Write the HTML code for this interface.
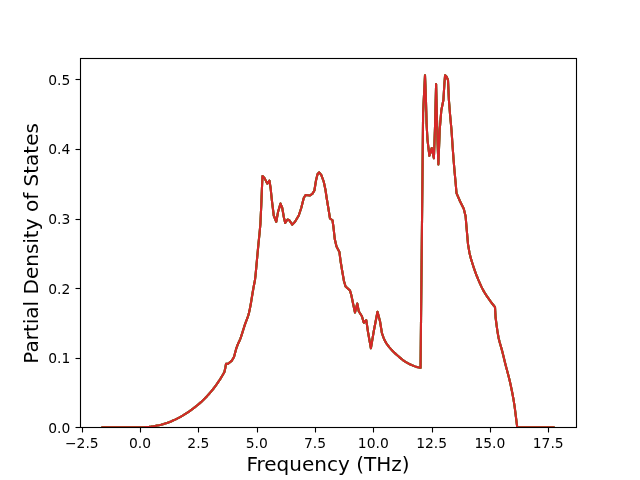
<!DOCTYPE html>
<html><head><meta charset="utf-8"><title>Partial Density of States</title>
<style>
html,body{margin:0;padding:0;background:#fff;}
body{width:640px;height:480px;overflow:hidden;}
svg{display:block;}
text{font-family:"DejaVu Sans","Liberation Sans",sans-serif;fill:#000;}
.t{font-size:13.889px;}
.l{font-size:20px;}
</style></head><body>
<svg width="640" height="480" viewBox="0 0 640 480">
<rect width="640" height="480" fill="#fff"/>
<defs><clipPath id="c"><rect x="80" y="57.6" width="496" height="369.6"/></clipPath></defs>

<g clip-path="url(#c)" fill="none" stroke-width="2.083" stroke-linejoin="round" stroke-linecap="square">
<path d="M102.5 427.2 L140.75 427.2 L143 427.19 L145 427.12 L147 426.99 L149 426.81 L151 426.58 L153 426.3 L155 425.96 L157 425.57 L159 425.15 L161 424.68 L163 424.16 L165 423.58 L167 422.94 L169 422.22 L171 421.44 L173 420.58 L175 419.67 L177 418.69 L179 417.65 L181 416.54 L183 415.38 L185 414.15 L187 412.87 L189 411.52 L191 410.12 L193 408.67 L195 407.15 L197 405.55 L199 403.88 L201 402.14 L203 400.29 L205 398.28 L207 396.17 L209 393.96 L211 391.65 L213 389.24 L215 386.65 L217 383.87 L219 380.94 L221 377.84 L223 374.47 L224.4 371.99 L225.3 368 L226 363.9 L228.1 363.75 L231.9 360.6 L234 356.9 L236 349.4 L236.5 347.95 L237 346.57 L237.5 345.24 L238 343.99 L238.5 342.84 L239 341.8 L239.5 340.75 L240 339.6 L240.5 338.3 L241 336.9 L241.5 335.42 L242 333.87 L242.5 332.28 L243 330.67 L243.5 329.06 L244 327.46 L244.5 325.9 L245 324.4 L245.5 322.99 L246 321.67 L246.5 320.38 L247 319.08 L247.5 317.73 L248 316.26 L248.5 314.64 L249 312.79 L249.5 310.6 L250 308.14 L250.5 305.53 L251 302.74 L251.5 299.66 L252 296.52 L252.5 293.51 L253 290.54 L253.5 287.65 L254 284.96 L254.5 282.57 L255 279.7 L255.5 275.51 L256 270.28 L256.5 264.8 L257 259.48 L257.5 253.97 L258 248.55 L258.5 243.44 L259 238.51 L259.5 233.53 L260 228.3 L260.4 224 L261.25 205.5 L262 186.75 L262.5 176 L264.4 177.9 L267.25 183.6 L269.4 180.5 L270.6 188 L271.9 200.5 L273.75 215.5 L276.25 221.75 L278.1 211.75 L280.5 203.6 L282.25 208 L283.75 216.75 L285.2 223 L287.5 219.5 L289 219.9 L292.3 224.6 L295 221.75 L298.75 215.5 L301.25 208 L303.75 198 L305.6 195 L310 195.5 L312.5 193.6 L314.4 190.5 L316 180.5 L317.5 174.25 L319.1 172.3 L321.25 174.9 L323.75 181.75 L325.5 190 L326.5 197 L328.4 208.5 L330 218.5 L332.5 220.25 L333.5 227.5 L334.75 239 L336.5 246.5 L339.4 251.9 L340.6 261.25 L342.25 271.25 L344 281.25 L345.6 286.5 L350 290.6 L351.3 295 L353.1 303.75 L355 312.5 L357.25 303.5 L358.75 311.25 L361.9 316.25 L363.8 322.8 L366.25 320.2 L368.1 332.5 L370.9 348.3 L373.75 331.25 L377.5 311.8 L380 321.25 L381.9 333 L383.4 337.31 L384.9 340.81 L386.4 343.39 L387.9 345.52 L389.4 347.39 L390.9 349.13 L392.4 350.73 L393.9 352.22 L395.4 353.62 L396.9 354.97 L398.4 356.29 L399.9 357.6 L401.4 358.86 L402.9 360.04 L404.4 361.11 L405.9 362.05 L407.4 362.92 L408.9 363.72 L410.4 364.45 L411.9 365.14 L413.4 365.78 L414.9 366.38 L416.4 366.87 L417.9 367.27 L419.4 367.6 L420.55 367.8 L423.1 113 L425 75.3 L425.8 95 L426.6 124 L427.5 140 L429.4 155.8 L431.7 148 L433.9 158.2 L435 127.5 L436.1 84 L437.5 140 L438.4 164.4 L439.7 130 L441.3 110.5 L443.4 100 L444.4 83.75 L445.1 75.2 L446.6 76.8 L448 80 L448.9 100 L450.1 115 L451.5 130 L452.5 145 L453.6 160 L454.6 172 L455.6 182.5 L456.5 193.1 L460 201.25 L463.75 208.75 L465.6 216.25 L466.5 227 L468 244.13 L469.5 252.97 L471 258.91 L472.5 263.75 L474 268.34 L475.5 272.55 L477 276.51 L478.5 280.2 L480 283.61 L481.5 286.87 L483 289.88 L484.5 292.53 L486 294.91 L487.5 297.11 L489 299.21 L490.5 301.29 L492 303.3 L493.5 305.24 L495 307.1 L495.6 317.5 L496.6 325.36 L497.6 332.28 L498.6 337.97 L499.6 342.06 L500.6 345.47 L501.6 348.88 L502.6 352.76 L503.6 356.84 L504.6 360.97 L505.6 365 L506.6 368.8 L507.6 372.49 L508.6 376.26 L509.6 380.35 L510.6 384.76 L511.6 389.48 L512.6 394.56 L513.6 400.04 L514.6 406.38 L515.6 414.26 L516.6 422.31 L517.2 427.2 L553.5 427.2" stroke="#1f77b4"/>
<path d="M102.5 427.2 L140.75 427.2 L143 427.19 L145 427.12 L147 426.99 L149 426.81 L151 426.58 L153 426.3 L155 425.96 L157 425.57 L159 425.15 L161 424.68 L163 424.16 L165 423.58 L167 422.94 L169 422.22 L171 421.44 L173 420.58 L175 419.67 L177 418.69 L179 417.65 L181 416.54 L183 415.38 L185 414.15 L187 412.87 L189 411.52 L191 410.12 L193 408.67 L195 407.15 L197 405.55 L199 403.88 L201 402.14 L203 400.29 L205 398.28 L207 396.17 L209 393.96 L211 391.65 L213 389.24 L215 386.65 L217 383.87 L219 380.94 L221 377.84 L223 374.47 L224.4 371.99 L225.3 368 L226 363.9 L228.1 363.75 L231.9 360.6 L234 356.9 L236 349.4 L236.5 347.95 L237 346.57 L237.5 345.24 L238 343.99 L238.5 342.84 L239 341.8 L239.5 340.75 L240 339.6 L240.5 338.3 L241 336.9 L241.5 335.42 L242 333.87 L242.5 332.28 L243 330.67 L243.5 329.06 L244 327.46 L244.5 325.9 L245 324.4 L245.5 322.99 L246 321.67 L246.5 320.38 L247 319.08 L247.5 317.73 L248 316.26 L248.5 314.64 L249 312.79 L249.5 310.6 L250 308.14 L250.5 305.53 L251 302.74 L251.5 299.66 L252 296.52 L252.5 293.51 L253 290.54 L253.5 287.65 L254 284.96 L254.5 282.57 L255 279.7 L255.5 275.51 L256 270.28 L256.5 264.8 L257 259.48 L257.5 253.97 L258 248.55 L258.5 243.44 L259 238.51 L259.5 233.53 L260 228.3 L260.4 224 L261.25 205.5 L262 186.75 L262.5 176 L264.4 177.9 L267.25 183.6 L269.4 180.5 L270.6 188 L271.9 200.5 L273.75 215.5 L276.25 221.75 L278.1 211.75 L280.5 203.6 L282.25 208 L283.75 216.75 L285.2 223 L287.5 219.5 L289 219.9 L292.3 224.6 L295 221.75 L298.75 215.5 L301.25 208 L303.75 198 L305.6 195 L310 195.5 L312.5 193.6 L314.4 190.5 L316 180.5 L317.5 174.25 L319.1 172.3 L321.25 174.9 L323.75 181.75 L325.5 190 L326.5 197 L328.4 208.5 L330 218.5 L332.5 220.25 L333.5 227.5 L334.75 239 L336.5 246.5 L339.4 251.9 L340.6 261.25 L342.25 271.25 L344 281.25 L345.6 286.5 L350 290.6 L351.3 295 L353.1 303.75 L355 312.5 L357.25 303.5 L358.75 311.25 L361.9 316.25 L363.8 322.8 L366.25 320.2 L368.1 332.5 L370.9 348.3 L373.75 331.25 L377.5 311.8 L380 321.25 L381.9 333 L383.4 337.31 L384.9 340.81 L386.4 343.39 L387.9 345.52 L389.4 347.39 L390.9 349.13 L392.4 350.73 L393.9 352.22 L395.4 353.62 L396.9 354.97 L398.4 356.29 L399.9 357.6 L401.4 358.86 L402.9 360.04 L404.4 361.11 L405.9 362.05 L407.4 362.92 L408.9 363.72 L410.4 364.45 L411.9 365.14 L413.4 365.78 L414.9 366.38 L416.4 366.87 L417.9 367.27 L419.4 367.6 L420.55 367.8 L423.1 113 L425 75.3 L425.8 95 L426.6 124 L427.5 140 L429.4 155.8 L431.7 148 L433.9 158.2 L435 127.5 L436.1 84 L437.5 140 L438.4 164.4 L439.7 130 L441.3 110.5 L443.4 100 L444.4 83.75 L445.1 75.2 L446.6 76.8 L448 80 L448.9 100 L450.1 115 L451.5 130 L452.5 145 L453.6 160 L454.6 172 L455.6 182.5 L456.5 193.1 L460 201.25 L463.75 208.75 L465.6 216.25 L466.5 227 L468 244.13 L469.5 252.97 L471 258.91 L472.5 263.75 L474 268.34 L475.5 272.55 L477 276.51 L478.5 280.2 L480 283.61 L481.5 286.87 L483 289.88 L484.5 292.53 L486 294.91 L487.5 297.11 L489 299.21 L490.5 301.29 L492 303.3 L493.5 305.24 L495 307.1 L495.6 317.5 L496.6 325.36 L497.6 332.28 L498.6 337.97 L499.6 342.06 L500.6 345.47 L501.6 348.88 L502.6 352.76 L503.6 356.84 L504.6 360.97 L505.6 365 L506.6 368.8 L507.6 372.49 L508.6 376.26 L509.6 380.35 L510.6 384.76 L511.6 389.48 L512.6 394.56 L513.6 400.04 L514.6 406.38 L515.6 414.26 L516.6 422.31 L517.2 427.2 L553.5 427.2" stroke="#ff7f0e"/>
<path d="M102.5 427.2 L140.75 427.2 L143 427.19 L145 427.12 L147 426.99 L149 426.81 L151 426.58 L153 426.3 L155 425.96 L157 425.57 L159 425.15 L161 424.68 L163 424.16 L165 423.58 L167 422.94 L169 422.22 L171 421.44 L173 420.58 L175 419.67 L177 418.69 L179 417.65 L181 416.54 L183 415.38 L185 414.15 L187 412.87 L189 411.52 L191 410.12 L193 408.67 L195 407.15 L197 405.55 L199 403.88 L201 402.14 L203 400.29 L205 398.28 L207 396.17 L209 393.96 L211 391.65 L213 389.24 L215 386.65 L217 383.87 L219 380.94 L221 377.84 L223 374.47 L224.4 371.99 L225.3 368 L226 363.9 L228.1 363.75 L231.9 360.6 L234 356.9 L236 349.4 L236.5 347.95 L237 346.57 L237.5 345.24 L238 343.99 L238.5 342.84 L239 341.8 L239.5 340.75 L240 339.6 L240.5 338.3 L241 336.9 L241.5 335.42 L242 333.87 L242.5 332.28 L243 330.67 L243.5 329.06 L244 327.46 L244.5 325.9 L245 324.4 L245.5 322.99 L246 321.67 L246.5 320.38 L247 319.08 L247.5 317.73 L248 316.26 L248.5 314.64 L249 312.79 L249.5 310.6 L250 308.14 L250.5 305.53 L251 302.74 L251.5 299.66 L252 296.52 L252.5 293.51 L253 290.54 L253.5 287.65 L254 284.96 L254.5 282.57 L255 279.7 L255.5 275.51 L256 270.28 L256.5 264.8 L257 259.48 L257.5 253.97 L258 248.55 L258.5 243.44 L259 238.51 L259.5 233.53 L260 228.3 L260.4 224 L261.25 205.5 L262 186.75 L262.5 176 L264.4 177.9 L267.25 183.6 L269.4 180.5 L270.6 188 L271.9 200.5 L273.75 215.5 L276.25 221.75 L278.1 211.75 L280.5 203.6 L282.25 208 L283.75 216.75 L285.2 223 L287.5 219.5 L289 219.9 L292.3 224.6 L295 221.75 L298.75 215.5 L301.25 208 L303.75 198 L305.6 195 L310 195.5 L312.5 193.6 L314.4 190.5 L316 180.5 L317.5 174.25 L319.1 172.3 L321.25 174.9 L323.75 181.75 L325.5 190 L326.5 197 L328.4 208.5 L330 218.5 L332.5 220.25 L333.5 227.5 L334.75 239 L336.5 246.5 L339.4 251.9 L340.6 261.25 L342.25 271.25 L344 281.25 L345.6 286.5 L350 290.6 L351.3 295 L353.1 303.75 L355 312.5 L357.25 303.5 L358.75 311.25 L361.9 316.25 L363.8 322.8 L366.25 320.2 L368.1 332.5 L370.9 348.3 L373.75 331.25 L377.5 311.8 L380 321.25 L381.9 333 L383.4 337.31 L384.9 340.81 L386.4 343.39 L387.9 345.52 L389.4 347.39 L390.9 349.13 L392.4 350.73 L393.9 352.22 L395.4 353.62 L396.9 354.97 L398.4 356.29 L399.9 357.6 L401.4 358.86 L402.9 360.04 L404.4 361.11 L405.9 362.05 L407.4 362.92 L408.9 363.72 L410.4 364.45 L411.9 365.14 L413.4 365.78 L414.9 366.38 L416.4 366.87 L417.9 367.27 L419.4 367.6 L420.55 367.8 L423.1 113 L425 75.3 L425.8 95 L426.6 124 L427.5 140 L429.4 155.8 L431.7 148 L433.9 158.2 L435 127.5 L436.1 84 L437.5 140 L438.4 164.4 L439.7 130 L441.3 110.5 L443.4 100 L444.4 83.75 L445.1 75.2 L446.6 76.8 L448 80 L448.9 100 L450.1 115 L451.5 130 L452.5 145 L453.6 160 L454.6 172 L455.6 182.5 L456.5 193.1 L460 201.25 L463.75 208.75 L465.6 216.25 L466.5 227 L468 244.13 L469.5 252.97 L471 258.91 L472.5 263.75 L474 268.34 L475.5 272.55 L477 276.51 L478.5 280.2 L480 283.61 L481.5 286.87 L483 289.88 L484.5 292.53 L486 294.91 L487.5 297.11 L489 299.21 L490.5 301.29 L492 303.3 L493.5 305.24 L495 307.1 L495.6 317.5 L496.6 325.36 L497.6 332.28 L498.6 337.97 L499.6 342.06 L500.6 345.47 L501.6 348.88 L502.6 352.76 L503.6 356.84 L504.6 360.97 L505.6 365 L506.6 368.8 L507.6 372.49 L508.6 376.26 L509.6 380.35 L510.6 384.76 L511.6 389.48 L512.6 394.56 L513.6 400.04 L514.6 406.38 L515.6 414.26 L516.6 422.31 L517.2 427.2 L553.5 427.2" stroke="#2ca02c"/>
<path d="M102.5 427.2 L140.75 427.2 L143 427.19 L145 427.12 L147 426.99 L149 426.81 L151 426.58 L153 426.3 L155 425.96 L157 425.57 L159 425.15 L161 424.68 L163 424.16 L165 423.58 L167 422.94 L169 422.22 L171 421.44 L173 420.58 L175 419.67 L177 418.69 L179 417.65 L181 416.54 L183 415.38 L185 414.15 L187 412.87 L189 411.52 L191 410.12 L193 408.67 L195 407.15 L197 405.55 L199 403.88 L201 402.14 L203 400.29 L205 398.28 L207 396.17 L209 393.96 L211 391.65 L213 389.24 L215 386.65 L217 383.87 L219 380.94 L221 377.84 L223 374.47 L224.4 371.99 L225.3 368 L226 363.9 L228.1 363.75 L231.9 360.6 L234 356.9 L236 349.4 L236.5 347.95 L237 346.57 L237.5 345.24 L238 343.99 L238.5 342.84 L239 341.8 L239.5 340.75 L240 339.6 L240.5 338.3 L241 336.9 L241.5 335.42 L242 333.87 L242.5 332.28 L243 330.67 L243.5 329.06 L244 327.46 L244.5 325.9 L245 324.4 L245.5 322.99 L246 321.67 L246.5 320.38 L247 319.08 L247.5 317.73 L248 316.26 L248.5 314.64 L249 312.79 L249.5 310.6 L250 308.14 L250.5 305.53 L251 302.74 L251.5 299.66 L252 296.52 L252.5 293.51 L253 290.54 L253.5 287.65 L254 284.96 L254.5 282.57 L255 279.7 L255.5 275.51 L256 270.28 L256.5 264.8 L257 259.48 L257.5 253.97 L258 248.55 L258.5 243.44 L259 238.51 L259.5 233.53 L260 228.3 L260.4 224 L261.25 205.5 L262 186.75 L262.5 176 L264.4 177.9 L267.25 183.6 L269.4 180.5 L270.6 188 L271.9 200.5 L273.75 215.5 L276.25 221.75 L278.1 211.75 L280.5 203.6 L282.25 208 L283.75 216.75 L285.2 223 L287.5 219.5 L289 219.9 L292.3 224.6 L295 221.75 L298.75 215.5 L301.25 208 L303.75 198 L305.6 195 L310 195.5 L312.5 193.6 L314.4 190.5 L316 180.5 L317.5 174.25 L319.1 172.3 L321.25 174.9 L323.75 181.75 L325.5 190 L326.5 197 L328.4 208.5 L330 218.5 L332.5 220.25 L333.5 227.5 L334.75 239 L336.5 246.5 L339.4 251.9 L340.6 261.25 L342.25 271.25 L344 281.25 L345.6 286.5 L350 290.6 L351.3 295 L353.1 303.75 L355 312.5 L357.25 303.5 L358.75 311.25 L361.9 316.25 L363.8 322.8 L366.25 320.2 L368.1 332.5 L370.9 348.3 L373.75 331.25 L377.5 311.8 L380 321.25 L381.9 333 L383.4 337.31 L384.9 340.81 L386.4 343.39 L387.9 345.52 L389.4 347.39 L390.9 349.13 L392.4 350.73 L393.9 352.22 L395.4 353.62 L396.9 354.97 L398.4 356.29 L399.9 357.6 L401.4 358.86 L402.9 360.04 L404.4 361.11 L405.9 362.05 L407.4 362.92 L408.9 363.72 L410.4 364.45 L411.9 365.14 L413.4 365.78 L414.9 366.38 L416.4 366.87 L417.9 367.27 L419.4 367.6 L420.55 367.8 L423.1 113 L425 75.3 L425.8 95 L426.6 124 L427.5 140 L429.4 155.8 L431.7 148 L433.9 158.2 L435 127.5 L436.1 84 L437.5 140 L438.4 164.4 L439.7 130 L441.3 110.5 L443.4 100 L444.4 83.75 L445.1 75.2 L446.6 76.8 L448 80 L448.9 100 L450.1 115 L451.5 130 L452.5 145 L453.6 160 L454.6 172 L455.6 182.5 L456.5 193.1 L460 201.25 L463.75 208.75 L465.6 216.25 L466.5 227 L468 244.13 L469.5 252.97 L471 258.91 L472.5 263.75 L474 268.34 L475.5 272.55 L477 276.51 L478.5 280.2 L480 283.61 L481.5 286.87 L483 289.88 L484.5 292.53 L486 294.91 L487.5 297.11 L489 299.21 L490.5 301.29 L492 303.3 L493.5 305.24 L495 307.1 L495.6 317.5 L496.6 325.36 L497.6 332.28 L498.6 337.97 L499.6 342.06 L500.6 345.47 L501.6 348.88 L502.6 352.76 L503.6 356.84 L504.6 360.97 L505.6 365 L506.6 368.8 L507.6 372.49 L508.6 376.26 L509.6 380.35 L510.6 384.76 L511.6 389.48 L512.6 394.56 L513.6 400.04 L514.6 406.38 L515.6 414.26 L516.6 422.31 L517.2 427.2 L553.5 427.2" stroke="#d62728"/>
</g>
<g stroke="#000" stroke-width="1.111" fill="none">
<path d="M82.5 427.5V432.5"/>
<path d="M140.5 427.5V432.5"/>
<path d="M198.5 427.5V432.5"/>
<path d="M257.5 427.5V432.5"/>
<path d="M315.5 427.5V432.5"/>
<path d="M373.5 427.5V432.5"/>
<path d="M432.5 427.5V432.5"/>
<path d="M490.5 427.5V432.5"/>
<path d="M548.5 427.5V432.5"/>
<path d="M75.5 427.5H80.5"/>
<path d="M75.5 358.5H80.5"/>
<path d="M75.5 288.5H80.5"/>
<path d="M75.5 219.5H80.5"/>
<path d="M75.5 149.5H80.5"/>
<path d="M75.5 79.5H80.5"/>
</g>
<rect x="80.5" y="58.5" width="496" height="369" fill="none" stroke="#000" stroke-width="1.111"/>
<text class="t" x="81.8" y="448" text-anchor="middle">−2.5</text>
<text class="t" x="140.1" y="448" text-anchor="middle">0.0</text>
<text class="t" x="198.4" y="448" text-anchor="middle">2.5</text>
<text class="t" x="256.7" y="448" text-anchor="middle">5.0</text>
<text class="t" x="315" y="448" text-anchor="middle">7.5</text>
<text class="t" x="373.3" y="448" text-anchor="middle">10.0</text>
<text class="t" x="431.6" y="448" text-anchor="middle">12.5</text>
<text class="t" x="489.9" y="448" text-anchor="middle">15.0</text>
<text class="t" x="548.2" y="448" text-anchor="middle">17.5</text>
<text class="t" x="70.28" y="433" text-anchor="end">0.0</text>
<text class="t" x="70.28" y="363" text-anchor="end">0.1</text>
<text class="t" x="70.28" y="294" text-anchor="end">0.2</text>
<text class="t" x="70.28" y="224" text-anchor="end">0.3</text>
<text class="t" x="70.28" y="154" text-anchor="end">0.4</text>
<text class="t" x="70.28" y="85" text-anchor="end">0.5</text>
<text class="l" x="328" y="471.12" text-anchor="middle">Frequency (THz)</text>
<text class="l" transform="translate(38.48 243.4) rotate(-90)" text-anchor="middle">Partial Density of States</text>
</svg></body></html>
